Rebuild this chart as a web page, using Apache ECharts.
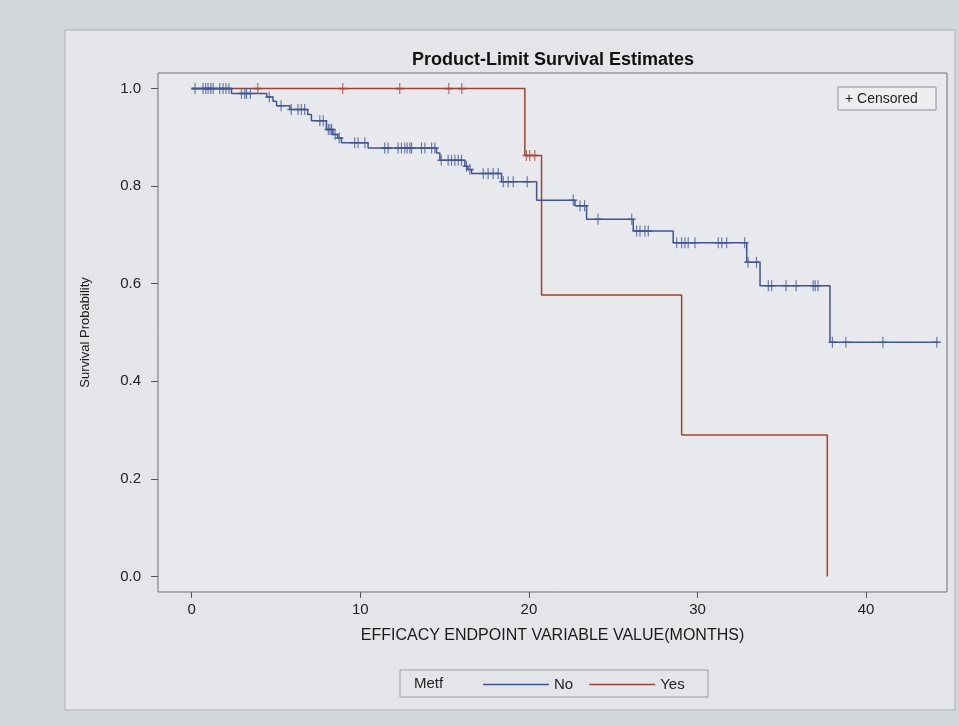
<!DOCTYPE html>
<html>
<head>
<meta charset="utf-8">
<script src="https://cdn.jsdelivr.net/npm/echarts@6/dist/echarts.min.js"></script>
<style>
html,body{margin:0;padding:0;background:#d3d6da;}
#chart{width:959px;height:726px;}
</style>
</head>
<body>
<div id="chart"></div>
<script>
// ---- Data ----
const xTickValues = [0, 10, 20, 30, 40];
const yTickValues = [0, 0.2, 0.4, 0.6, 0.8, 1.0];

// Metf = No : event times and survival after each drop
const noEventTimes = [2.36, 4.45, 4.82, 5.03, 5.82, 6.88, 7.10, 7.99, 8.37, 8.66, 8.88, 10.46, 14.52, 14.72, 16.20, 16.38, 16.60, 18.38, 20.46, 22.73, 23.42, 26.19, 28.56, 32.92, 33.71, 37.86];
const noSurvival   = [0.990, 0.983, 0.974, 0.965, 0.957, 0.947, 0.934, 0.916, 0.906, 0.899, 0.889, 0.878, 0.868, 0.853, 0.841, 0.834, 0.826, 0.809, 0.771, 0.760, 0.732, 0.708, 0.684, 0.644, 0.596, 0.480];
const noLastTime = 44.3;
const noCensorTimes = [0.2, 0.67, 0.83, 0.97, 1.13, 1.27, 1.66, 1.86, 2.03, 2.21, 2.95, 3.15, 3.25, 3.48, 4.6, 5.3, 5.9, 6.3, 6.5, 6.7, 7.6, 7.8, 8.1, 8.2, 8.3, 8.5, 8.75, 9.67, 9.87, 10.27, 11.45, 11.65, 12.24, 12.44, 12.64, 12.78, 12.94, 13.04, 13.63, 13.83, 14.23, 14.42, 14.8, 15.21, 15.41, 15.61, 15.81, 16.0, 16.3, 16.5, 17.29, 17.58, 17.88, 18.18, 18.48, 18.77, 19.07, 19.9, 22.63, 23.03, 23.3, 24.1, 26.1, 26.39, 26.59, 26.88, 27.08, 28.77, 29.06, 29.26, 29.45, 29.85, 31.23, 31.44, 31.73, 32.8, 33.0, 33.5, 34.2, 34.4, 35.25, 35.85, 36.86, 36.98, 37.15, 38.0, 38.8, 41.0, 44.2];

// Metf = Yes
const yesEventTimes = [19.76, 20.75, 29.06, 37.7];
const yesSurvival   = [0.863, 0.577, 0.290, 0.0];
const yesCensorTimes = [3.92, 8.96, 12.34, 15.25, 16.02, 19.85, 20.05, 20.35];

// ---- helpers ----
function stepData(times, surv, lastTime) {
  const d = [[0, 1]];
  for (let i = 0; i < times.length; i++) d.push([times[i], surv[i]]);
  if (lastTime != null) d.push([lastTime, surv[surv.length - 1]]);
  return d;
}
function levelAt(times, surv, t) {
  let s = 1;
  for (let i = 0; i < times.length; i++) if (times[i] <= t) s = surv[i];
  return s;
}
function censorData(ctimes, times, surv) {
  return ctimes.map(t => [t, levelAt(times, surv, t)]);
}

const blue = '#3d5597';
const red = '#a5412f';
const plus = 'path://M-0.7,-5 L0.7,-5 L0.7,-0.7 L5,-0.7 L5,0.7 L0.7,0.7 L0.7,5 L-0.7,5 L-0.7,0.7 L-5,0.7 L-5,-0.7 L-0.7,-0.7 Z';
const font = 'Liberation Sans, Arial, sans-serif';

const chart = echarts.init(document.getElementById('chart'));
chart.setOption({
  backgroundColor: '#d3d6da',
  animation: false,
  textStyle: { fontFamily: font },
  graphic: [
    { type: 'rect', z: -10, shape: { x: 65, y: 30, width: 890, height: 680 },
      style: { fill: '#e3e5e8', stroke: '#aeb1b6', lineWidth: 1 } },
    { type: 'text', z: 5,
      style: { text: 'Product-Limit Survival Estimates', x: 553, y: 60, fill: '#111',
        font: 'bold 18px ' + font, textAlign: 'center', textVerticalAlign: 'middle' } },
    { type: 'rect', z: 5, shape: { x: 838, y: 87, width: 98, height: 23 },
      style: { fill: '#eceef0', stroke: '#8d9095', lineWidth: 1 } },
    { type: 'text', z: 6,
      style: { text: '+ Censored', x: 845, y: 99, fill: '#222', font: '14px ' + font,
        textVerticalAlign: 'middle' } },
    { type: 'rect', z: 5, shape: { x: 400, y: 670, width: 308, height: 27 },
      style: { fill: 'none', stroke: '#9a9da2', lineWidth: 1 } },
    { type: 'text', z: 6,
      style: { text: 'Metf', x: 414, y: 684, fill: '#222', font: '15px ' + font,
        textVerticalAlign: 'middle' } }
  ],
  grid: { left: 158, right: 12, top: 73, bottom: 134, show: true,
    backgroundColor: '#e7e9ec', borderColor: '#6f7277', borderWidth: 1 },
  legend: {
    data: ['No', 'Yes'], left: 478, top: 672, icon: 'rect',
    itemWidth: 66, itemHeight: 1.5, itemGap: 16,
    textStyle: { fontSize: 15, color: '#222', fontFamily: font }
  },
  xAxis: {
    type: 'value', min: -2, max: 44.8,
    name: 'EFFICACY ENDPOINT VARIABLE VALUE(MONTHS)', nameLocation: 'middle', nameGap: 36,
    nameTextStyle: { fontSize: 16, color: '#1a1a1a', fontFamily: font },
    axisLine: { show: false, onZero: false },
    axisTick: { show: true, length: 6, customValues: xTickValues, lineStyle: { color: '#555' } },
    axisLabel: { customValues: xTickValues, fontSize: 15, color: '#222', margin: 10 },
    splitLine: { show: false }
  },
  yAxis: {
    type: 'value', min: -0.032, max: 1.032,
    name: 'Survival Probability', nameLocation: 'middle', nameGap: 66,
    nameTextStyle: { fontSize: 13, color: '#1a1a1a', fontFamily: font },
    axisLine: { show: false, onZero: false },
    axisTick: { show: true, length: 7, customValues: yTickValues, lineStyle: { color: '#555' } },
    axisLabel: { customValues: yTickValues, fontSize: 15, color: '#222', margin: 17,
      formatter: v => v.toFixed(1) },
    splitLine: { show: false }
  },
  series: [
    { name: 'No', type: 'line', step: 'end', showSymbol: false, symbol: 'none',
      data: stepData(noEventTimes, noSurvival, noLastTime),
      lineStyle: { color: blue, width: 1.5 }, itemStyle: { color: blue }, z: 3 },
    { name: 'Yes', type: 'line', step: 'end', showSymbol: false, symbol: 'none',
      data: stepData(yesEventTimes, yesSurvival, null),
      lineStyle: { color: red, width: 1.5 }, itemStyle: { color: red }, z: 2 },
    { name: 'No censored', type: 'scatter', symbol: plus, symbolSize: [8, 11],
      data: censorData(noCensorTimes, noEventTimes, noSurvival),
      itemStyle: { color: blue }, z: 4 },
    { name: 'Yes censored', type: 'scatter', symbol: plus, symbolSize: [8, 11],
      data: censorData(yesCensorTimes, yesEventTimes, yesSurvival),
      itemStyle: { color: red }, z: 4 }
  ]
});
</script>
</body>
</html>
